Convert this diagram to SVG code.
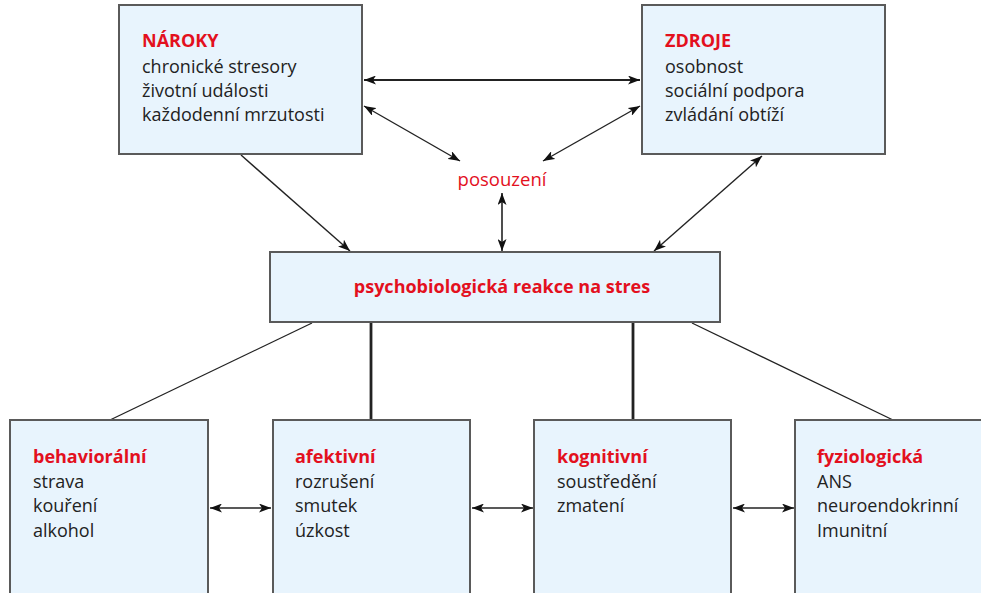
<svg xmlns="http://www.w3.org/2000/svg" width="981" height="593" viewBox="0 0 981 593">
  <style>
    .box { fill: #e8f4fd; stroke: #5a5a5a; stroke-width: 2; }
    .t { font-family: "Open Sans", "Liberation Sans", sans-serif; font-size: 18px; fill: #222; }
    .h { font-family: "Open Sans", "Liberation Sans", sans-serif; font-size: 18px; font-weight: bold; fill: #e3101e; }
    .r { font-family: "Open Sans", "Liberation Sans", sans-serif; font-size: 18.5px; fill: #e3101e; }
    .ln { fill: none; stroke: #222; }
  </style>
  <defs>
    <marker id="ah" viewBox="0 0 12 9" refX="12" refY="4.5" markerWidth="12" markerHeight="9" markerUnits="userSpaceOnUse" orient="auto-start-reverse">
      <path d="M0,0 L12,4.5 L0,9 L3,4.5 Z" fill="#111"/>
    </marker>
  </defs>

  <!-- connectors -->
  <g id="connectors">
    <line class="ln" x1="364" y1="80" x2="640" y2="80" stroke-width="2" marker-start="url(#ah)" marker-end="url(#ah)"/>
    <line class="ln" x1="364" y1="106" x2="460" y2="161" stroke-width="1.4" marker-start="url(#ah)" marker-end="url(#ah)"/>
    <line class="ln" x1="640" y1="106" x2="543" y2="161" stroke-width="1.4" marker-start="url(#ah)" marker-end="url(#ah)"/>
    <line class="ln" x1="502" y1="193" x2="502" y2="251" stroke-width="1.6" marker-start="url(#ah)" marker-end="url(#ah)"/>
    <line class="ln" x1="241" y1="155" x2="350" y2="251" stroke-width="1.4" marker-end="url(#ah)"/>
    <line class="ln" x1="762" y1="156" x2="654" y2="251" stroke-width="1.4" marker-start="url(#ah)" marker-end="url(#ah)"/>
    <line class="ln" x1="312" y1="323" x2="110" y2="420" stroke-width="1.3"/>
    <line class="ln" x1="371" y1="323" x2="371" y2="420" stroke-width="2.8"/>
    <line class="ln" x1="633" y1="323" x2="633" y2="420" stroke-width="2.8"/>
    <line class="ln" x1="692" y1="323" x2="893" y2="420" stroke-width="1.3"/>
    <line class="ln" x1="210" y1="508" x2="271" y2="508" stroke-width="1.5" marker-start="url(#ah)" marker-end="url(#ah)"/>
    <line class="ln" x1="472" y1="508" x2="533" y2="508" stroke-width="1.5" marker-start="url(#ah)" marker-end="url(#ah)"/>
    <line class="ln" x1="733" y1="508" x2="794" y2="508" stroke-width="1.5" marker-start="url(#ah)" marker-end="url(#ah)"/>
  </g>

  <g id="naroky">
    <rect class="box" x="119" y="5" width="243" height="149"/>
    <text class="h" x="142" y="47">NÁROKY</text>
    <text class="t" x="142" y="73">chronické stresory</text>
    <text class="t" x="142" y="97">životní události</text>
    <text class="t" x="142" y="121">každodenní mrzutosti</text>
  </g>

  <g id="zdroje">
    <rect class="box" x="642" y="5" width="243" height="149"/>
    <text class="h" x="665" y="47">ZDROJE</text>
    <text class="t" x="665" y="73">osobnost</text>
    <text class="t" x="665" y="97">sociální podpora</text>
    <text class="t" x="665" y="121">zvládání obtíží</text>
  </g>

  <g id="posouzeni">
    <text class="r" x="502" y="186" text-anchor="middle">posouzení</text>
  </g>

  <g id="reakce">
    <rect class="box" x="270" y="252" width="450" height="70"/>
    <text class="h" x="502" y="293" text-anchor="middle">psychobiologická reakce na stres</text>
  </g>

  <g id="behavioralni">
    <rect class="box" x="10" y="420" width="198" height="190"/>
    <text class="h" x="33" y="463">behaviorální</text>
    <text class="t" x="33" y="488">strava</text>
    <text class="t" x="33" y="512">kouření</text>
    <text class="t" x="33" y="537">alkohol</text>
  </g>

  <g id="afektivni">
    <rect class="box" x="273" y="420" width="197" height="190"/>
    <text class="h" x="295" y="463">afektivní</text>
    <text class="t" x="295" y="488">rozrušení</text>
    <text class="t" x="295" y="512">smutek</text>
    <text class="t" x="295" y="537">úzkost</text>
  </g>

  <g id="kognitivni">
    <rect class="box" x="534" y="420" width="197" height="190"/>
    <text class="h" x="557" y="463">kognitivní</text>
    <text class="t" x="557" y="488">soustředění</text>
    <text class="t" x="557" y="512">zmatení</text>
  </g>

  <g id="fyziologicka">
    <rect class="box" x="795" y="420" width="197" height="190"/>
    <text class="h" x="817" y="463">fyziologická</text>
    <text class="t" x="817" y="488">ANS</text>
    <text class="t" x="817" y="512">neuroendokrinní</text>
    <text class="t" x="817" y="537">Imunitní</text>
  </g>
</svg>
